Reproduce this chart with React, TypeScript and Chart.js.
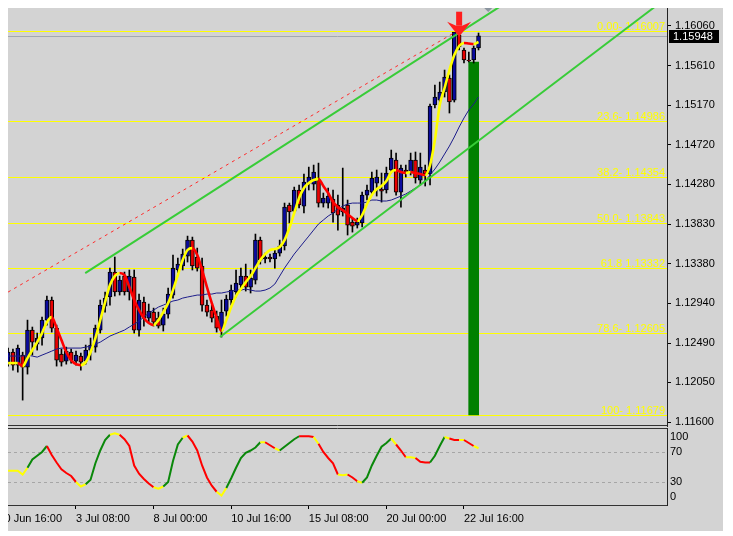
import React, { useEffect, useRef } from 'react';
import { Chart, registerables } from 'chart.js';

Chart.register(...registerables);

const FONT = '"Liberation Sans", Arial, sans-serif';

// ---- price data (H4 bars, index 0 = first visible bar) ----
const opens = [
  1.12275, 1.12387, 1.12241, 1.12354, 1.12219, 1.12636, 1.12478, 1.12546, 1.12748, 1.12974,
  1.12658, 1.12365, 1.12286, 1.12387, 1.12286, 1.12343, 1.12286, 1.12410, 1.12444, 1.12636,
  1.12906, 1.13008, 1.13289, 1.13064, 1.13244, 1.13064, 1.13233, 1.12636, 1.12951, 1.12771,
  1.12838, 1.12771, 1.12692, 1.12816, 1.13030, 1.13312, 1.13357, 1.13469, 1.13649, 1.13458,
  1.13357, 1.12917, 1.12861, 1.12793, 1.12636, 1.12850, 1.12974, 1.13064, 1.13143, 1.13244,
  1.13120, 1.13199, 1.13649, 1.13436, 1.13458, 1.13436, 1.13503, 1.13582, 1.14044, 1.13976,
  1.14213, 1.14032, 1.14291, 1.14280, 1.14325, 1.14066, 1.14066, 1.14111, 1.14044, 1.13965,
  1.14044, 1.13852, 1.13818, 1.13841, 1.14156, 1.14190, 1.14291, 1.14224, 1.14213, 1.14438,
  1.14551, 1.14190, 1.14438, 1.14415, 1.14551, 1.14325, 1.14438, 1.14393, 1.15170, 1.15226,
  1.15317, 1.15474, 1.15226, 1.15959, 1.15790, 1.15677, 1.15677, 1.15812,
];
const highs = [
  1.12433, 1.12422, 1.12467, 1.12387, 1.12748, 1.12670, 1.12602, 1.12782, 1.13019, 1.13008,
  1.12692, 1.12422, 1.12444, 1.12422, 1.12399, 1.12376, 1.12467, 1.12546, 1.12692, 1.12974,
  1.13064, 1.13334, 1.13458, 1.13244, 1.13289, 1.13312, 1.13312, 1.13041, 1.13008, 1.12929,
  1.12883, 1.12838, 1.12883, 1.13109, 1.13481, 1.13447, 1.13548, 1.13694, 1.13683, 1.13559,
  1.13447, 1.12974, 1.12917, 1.12850, 1.12974, 1.13030, 1.13143, 1.13312, 1.13334, 1.13379,
  1.13312, 1.13717, 1.13683, 1.13503, 1.13492, 1.13537, 1.13649, 1.14066, 1.14066, 1.14246,
  1.14269, 1.14393, 1.14471, 1.14494, 1.14516, 1.14179, 1.14235, 1.14213, 1.14156, 1.14460,
  1.14100, 1.13897, 1.13897, 1.14190, 1.14269, 1.14415, 1.14438, 1.14404, 1.14471, 1.14663,
  1.14629, 1.14494, 1.14494, 1.14629, 1.14641, 1.14629, 1.14494, 1.15182, 1.15395, 1.15429,
  1.15564, 1.15508, 1.15985, 1.16007, 1.15812, 1.15767, 1.15835, 1.15981,
];
const lows = [
  1.12230, 1.12185, 1.12162, 1.11847, 1.12140, 1.12354, 1.12410, 1.12467, 1.12692, 1.12613,
  1.12230, 1.12230, 1.12252, 1.12264, 1.12241, 1.12185, 1.12252, 1.12298, 1.12387, 1.12602,
  1.12838, 1.12917, 1.13019, 1.13030, 1.13030, 1.12974, 1.12602, 1.12568, 1.12681, 1.12726,
  1.12681, 1.12658, 1.12625, 1.12771, 1.12996, 1.13278, 1.13312, 1.13402, 1.13312, 1.13300,
  1.12850, 1.12793, 1.12726, 1.12613, 1.12557, 1.12793, 1.12917, 1.13008, 1.13086, 1.13075,
  1.13053, 1.13154, 1.13379, 1.13391, 1.13402, 1.13334, 1.13469, 1.13537, 1.13841, 1.13954,
  1.14010, 1.13954, 1.14213, 1.14213, 1.14021, 1.14021, 1.14010, 1.13852, 1.13762, 1.13920,
  1.13706, 1.13739, 1.13785, 1.13796, 1.14100, 1.14156, 1.14145, 1.14077, 1.14179, 1.14404,
  1.14156, 1.14021, 1.14359, 1.14382, 1.14291, 1.14269, 1.14258, 1.14269, 1.15137, 1.15170,
  1.15260, 1.15080, 1.15204, 1.15790, 1.15643, 1.15655, 1.15643, 1.15790,
];
const closes = [
  1.12387, 1.12241, 1.12433, 1.12219, 1.12636, 1.12500, 1.12546, 1.12748, 1.12974, 1.12658,
  1.12298, 1.12275, 1.12399, 1.12298, 1.12354, 1.12275, 1.12410, 1.12467, 1.12658, 1.12917,
  1.12996, 1.13289, 1.13064, 1.13199, 1.13064, 1.13244, 1.12636, 1.12974, 1.12771, 1.12850,
  1.12726, 1.12681, 1.12816, 1.13041, 1.13334, 1.13379, 1.13492, 1.13649, 1.13357, 1.13334,
  1.12917, 1.12838, 1.12771, 1.12658, 1.12838, 1.12985, 1.13086, 1.13165, 1.13244, 1.13120,
  1.13221, 1.13649, 1.13424, 1.13458, 1.13436, 1.13503, 1.13582, 1.14021, 1.13965, 1.14213,
  1.14044, 1.14303, 1.14359, 1.14415, 1.14066, 1.14122, 1.14145, 1.13954, 1.13931, 1.14010,
  1.13818, 1.13807, 1.13852, 1.14156, 1.14213, 1.14348, 1.14359, 1.14201, 1.14404, 1.14573,
  1.14190, 1.14460, 1.14415, 1.14551, 1.14348, 1.14471, 1.14393, 1.15159, 1.15260, 1.15317,
  1.15486, 1.15204, 1.15992, 1.15823, 1.15677, 1.15666, 1.15812, 1.15948,
];

// smoothed trend line (yellow rising / red falling)
const trendLine = [
  1.12264, 1.12264, 1.12264, 1.12230, 1.12320, 1.12410, 1.12500, 1.12602, 1.12726, 1.12782,
  1.12658, 1.12523, 1.12387, 1.12298, 1.12252, 1.12241, 1.12275, 1.12387, 1.12546, 1.12748,
  1.12951, 1.13143, 1.13244, 1.13278, 1.13255, 1.13120, 1.12974, 1.12861, 1.12771, 1.12715,
  1.12692, 1.12748, 1.12838, 1.12940, 1.13086, 1.13255, 1.13424, 1.13537, 1.13559, 1.13481,
  1.13312, 1.13120, 1.12940, 1.12771, 1.12625, 1.12748, 1.12895, 1.13019, 1.13098, 1.13176,
  1.13244, 1.13334, 1.13424, 1.13492, 1.13537, 1.13548, 1.13571, 1.13649, 1.13785, 1.13954,
  1.14122, 1.14235, 1.14291, 1.14325, 1.14336, 1.14258, 1.14179, 1.14077, 1.14021, 1.13987,
  1.13942, 1.13897, 1.13864, 1.13931, 1.14055, 1.14156, 1.14224, 1.14258, 1.14314, 1.14415,
  1.14438, 1.14415, 1.14404, 1.14415, 1.14404, 1.14393, 1.14382, 1.14494, 1.14776, 1.15170,
  1.15362, 1.15564, 1.15733, 1.15835, 1.15869, 1.15863, 1.15857, 1.15880,
];

// slow moving average (navy)
const maLine = [
  1.12343, 1.12343, 1.12343, 1.12343, 1.12354, 1.12343, 1.12331, 1.12354, 1.12376, 1.12399,
  1.12422, 1.12433, 1.12433, 1.12433, 1.12433, 1.12433, 1.12444, 1.12455, 1.12478, 1.12500,
  1.12534, 1.12568, 1.12591, 1.12613, 1.12636, 1.12670, 1.12703, 1.12737, 1.12782, 1.12827,
  1.12861, 1.12895, 1.12917, 1.12940, 1.12963, 1.12974, 1.12996, 1.13008, 1.13019, 1.13030,
  1.13030, 1.13041, 1.13041, 1.13053, 1.13053, 1.13064, 1.13075, 1.13086, 1.13086, 1.13098,
  1.13086, 1.13075, 1.13075, 1.13086, 1.13109, 1.13154, 1.13244, 1.13334, 1.13413, 1.13492,
  1.13559, 1.13627, 1.13694, 1.13762, 1.13830, 1.13875, 1.13920, 1.13954, 1.13999, 1.14032,
  1.14055, 1.14066, 1.14066, 1.14066, 1.14077, 1.14100, 1.14100, 1.14089, 1.14089, 1.14100,
  1.14122, 1.14145, 1.14168, 1.14201, 1.14235, 1.14269, 1.14314, 1.14382, 1.14449, 1.14528,
  1.14618, 1.14708, 1.14810, 1.14922, 1.15024, 1.15114, 1.15181, 1.15260,
];

// oscillator (0..100)
const oscValues = [
  45, 45, 45, 40, 49, 60, 65, 70, 78, 66,
  56, 47, 42, 38, 30, 24, 27, 33, 55, 72,
  86, 93, 95, 93, 87, 78, 52, 41, 34, 28,
  23, 21, 24, 30, 58, 80, 89, 92, 84, 72,
  52, 36, 25, 17, 12, 22, 35, 49, 62, 69,
  72, 76, 83, 83, 79, 75, 72, 77, 82, 87,
  91, 91, 91, 90, 81, 70, 62, 55, 40, 39,
  40, 36, 31, 29, 36, 52, 65, 77, 82, 88,
  80, 72, 63, 63, 62, 57, 56, 56, 65, 78,
  90, 88, 86, 86, 86, 82, 78, 75,
];
// oscillator state per bar: g = up, r = down, y = neutral
const oscState =
  'yyyyy' + 'gggg' + 'rrrrrr' + 'yy' + 'ggggg' + 'yy' + 'rrrrrrr' + 'yy' + 'gggg' + 'y' +
  'rrrrrr' + 'yy' + 'ggggggg' + 'y' + 'rr' + 'y' + 'gggg' + 'rrr' + 'y' + 'rrrr' + 'yy' +
  'rr' + 'y' + 'gggggg' + 'y' + 'rr' + 'yy' + 'rrr' + 'ggg' + 'y' + 'rr' + 'y' + 'rr' + 'y';
const oscLevels = [100, 70, 30, 0];
const oscDashLevels = [70, 30];

// fibonacci retracement
const fibLevels = ['0.00-', '23.6-', '38.2-', '50.0-', '61.8', '78.6-', '100-'];
const fibPrices = [1.16007, 1.14986, 1.14354, 1.13843, 1.13332, 1.12605, 1.11679];

// price axis ticks
const priceTicks = [1.1606, 1.1561, 1.1517, 1.1472, 1.1428, 1.1383, 1.1338, 1.1294, 1.1249, 1.1205, 1.116];

// time axis labels (bar index of each label)
const timeLabels = ['30 Jun 16:00', '3 Jul 08:00', '8 Jul 00:00', '10 Jul 16:00', '15 Jul 08:00', '20 Jul 00:00', '22 Jul 16:00'];
const timeLabelBars = [-2, 14, 30, 46, 62, 78, 94];

// drawn objects: channel trend lines [bar, price]
const upperChannel = [[15.9, 1.13278], [105, 1.16404]];
const lowerChannel = [[43.7, 1.12557], [135, 1.16344]];
const dashedLine = [[-5, 1.12905], [92.5, 1.16]];
const targetBar = { bar: 96, from: 1.11679, to: 1.15655 };
const arrowBar = 93;
const markerBar = 99;

// view
const X_MIN = -0.02;
const X_MAX = 135.86;
const P_MIN = 1.115555;
const P_MAX = 1.163527;

const BULL = '#0a0a9e';
const BEAR = '#e80000';
const YEL = '#ffff00';
const RED = '#ff0000';
const GRN = '#0a880a';

const idx = opens.map((_, i) => i);
const lastClose = closes[closes.length - 1];

const mainDecor = {
  id: 'mainDecor',
  beforeDatasetsDraw(chart: any) {
    const { ctx, chartArea: a, scales } = chart;
    const y = scales.y;
    ctx.save();
    ctx.beginPath();
    ctx.rect(a.left, a.top, a.right - a.left, a.bottom - a.top);
    ctx.clip();
    ctx.lineWidth = 1;
    const cp = Math.round(y.getPixelForValue(lastClose)) + 0.5;
    ctx.strokeStyle = '#a2a8b0';
    ctx.beginPath();
    ctx.moveTo(a.left, cp);
    ctx.lineTo(a.right, cp);
    ctx.stroke();
    ctx.font = `11px ${FONT}`;
    ctx.textAlign = 'right';
    ctx.textBaseline = 'alphabetic';
    fibPrices.forEach((p, i) => {
      const py = Math.round(y.getPixelForValue(p)) + 0.5;
      ctx.strokeStyle = YEL;
      ctx.beginPath();
      ctx.moveTo(a.left, py);
      ctx.lineTo(a.right, py);
      ctx.stroke();
      ctx.fillStyle = YEL;
      ctx.fillText(`${fibLevels[i]} ${p.toFixed(5)}`, a.right - 2, py - 2);
    });
    ctx.restore();
  },
  afterDatasetsDraw(chart: any) {
    const { ctx, chartArea: a, scales } = chart;
    const { x, y } = scales;
    ctx.save();
    ctx.beginPath();
    ctx.rect(a.left, a.top, a.right - a.left, a.bottom - a.top);
    ctx.clip();
    // grey marker at top
    const mx = x.getPixelForValue(markerBar);
    const my = a.top + 4;
    ctx.fillStyle = '#8a949e';
    ctx.beginPath();
    ctx.moveTo(mx, my - 8);
    ctx.lineTo(mx + 8, my);
    ctx.lineTo(mx, my + 8);
    ctx.lineTo(mx - 8, my);
    ctx.closePath();
    ctx.fill();
    // red sell arrow
    const ax = x.getPixelForValue(arrowBar);
    const tip = y.getPixelForValue(highs[arrowBar]) + 6;
    ctx.fillStyle = '#ff1e1e';
    ctx.beginPath();
    ctx.rect(ax - 3, tip - 25, 6, 14);
    ctx.fill();
    ctx.beginPath();
    ctx.moveTo(ax - 12, tip - 15);
    ctx.lineTo(ax - 3, tip - 11);
    ctx.lineTo(ax + 3, tip - 11);
    ctx.lineTo(ax + 12, tip - 15);
    ctx.lineTo(ax, tip);
    ctx.closePath();
    ctx.fill();
    ctx.restore();
    // bottom border
    ctx.save();
    ctx.strokeStyle = '#333';
    ctx.lineWidth = 1;
    ctx.beginPath();
    ctx.moveTo(a.left, a.bottom - 0.5);
    ctx.lineTo(a.right, a.bottom - 0.5);
    ctx.stroke();
    ctx.restore();
  },
  afterDraw(chart: any) {
    const { ctx, chartArea: a, scales } = chart;
    const py = scales.y.getPixelForValue(lastClose);
    ctx.save();
    ctx.fillStyle = '#000';
    ctx.fillRect(a.right + 2, Math.round(py) - 6, 50, 13);
    ctx.fillStyle = '#fff';
    ctx.font = `11px ${FONT}`;
    ctx.textAlign = 'left';
    ctx.textBaseline = 'middle';
    ctx.fillText(lastClose.toFixed(5), a.right + 6, Math.round(py) + 0.5);
    ctx.restore();
  },
};

const oscDecor = {
  id: 'oscDecor',
  beforeDatasetsDraw(chart: any) {
    const { ctx, chartArea: a, scales } = chart;
    ctx.save();
    ctx.strokeStyle = '#a6a6a6';
    ctx.lineWidth = 1;
    ctx.setLineDash([3, 3]);
    oscDashLevels.forEach((v) => {
      const py = Math.round(scales.y.getPixelForValue(v)) + 0.5;
      ctx.beginPath();
      ctx.moveTo(a.left, py);
      ctx.lineTo(a.right, py);
      ctx.stroke();
    });
    ctx.setLineDash([]);
    ctx.strokeStyle = '#333';
    ctx.beginPath();
    ctx.moveTo(a.left, a.top + 0.5);
    ctx.lineTo(a.right, a.top + 0.5);
    ctx.stroke();
    ctx.restore();
  },
  afterDraw(chart: any) {
    const { ctx, chartArea: a, scales } = chart;
    ctx.save();
    ctx.fillStyle = '#000';
    ctx.font = `11px ${FONT}`;
    ctx.textAlign = 'left';
    ctx.textBaseline = 'middle';
    oscLevels.forEach((v) => {
      let py = scales.y.getPixelForValue(v);
      py = Math.max(a.top + 9, Math.min(a.bottom - 8, py));
      ctx.fillText(String(v), a.right + 3, py);
    });
    ctx.restore();
  },
};

function mainConfig(): any {
  return {
    type: 'bar',
    data: {
      datasets: [
        {
          type: 'line',
          data: upperChannel.map(([bx, p]) => ({ x: bx, y: p })),
          borderColor: '#38cc38',
          borderWidth: 2,
          pointRadius: 0,
          order: 1,
        },
        {
          type: 'line',
          data: lowerChannel.map(([bx, p]) => ({ x: bx, y: p })),
          borderColor: '#38cc38',
          borderWidth: 2,
          pointRadius: 0,
          order: 1,
        },
        {
          type: 'line',
          data: idx.map((i) => ({ x: i, y: trendLine[i] })),
          borderWidth: 2.6,
          pointRadius: 0,
          cubicInterpolationMode: 'monotone',
          borderColor: YEL,
          segment: {
            borderColor: (c: any) => (c.p1.parsed.y >= c.p0.parsed.y ? YEL : RED),
          },
          order: 2,
        },
        {
          type: 'line',
          data: dashedLine.map(([bx, p]) => ({ x: bx, y: p })),
          borderColor: '#ff2a2a',
          borderWidth: 1,
          borderDash: [3, 4],
          pointRadius: 0,
          order: 3,
        },
        {
          type: 'line',
          data: idx.map((i) => ({ x: i, y: maLine[i] })),
          borderColor: '#1c1c8a',
          borderWidth: 1,
          pointRadius: 0,
          order: 4,
        },
        {
          type: 'bar',
          data: idx.map((i) => ({ x: i, y: [opens[i], closes[i]] })),
          backgroundColor: idx.map((i) => (closes[i] >= opens[i] ? BULL : BEAR)),
          borderColor: '#000',
          borderWidth: 1,
          borderSkipped: false,
          barThickness: 4,
          grouped: false,
          order: 5,
        },
        {
          type: 'bar',
          data: idx.map((i) => ({ x: i, y: [lows[i], highs[i]] })),
          backgroundColor: '#000',
          borderWidth: 0,
          barThickness: 1,
          grouped: false,
          order: 6,
        },
        {
          type: 'bar',
          data: [{ x: targetBar.bar, y: [targetBar.from, targetBar.to] }],
          backgroundColor: '#008000',
          borderWidth: 0,
          barThickness: 10,
          grouped: false,
          order: 7,
        },
      ],
    },
    options: {
      animation: false,
      responsive: false,
      devicePixelRatio: 1,
      events: [],
      layout: { padding: { top: 0, bottom: 2, left: 0, right: 0 } },
      plugins: { legend: { display: false }, tooltip: { enabled: false } },
      scales: {
        x: { type: 'linear', min: X_MIN, max: X_MAX, display: false, offset: false },
        y: {
          type: 'linear',
          position: 'right',
          min: P_MIN,
          max: P_MAX,
          beginAtZero: false,
          afterBuildTicks: (s: any) => {
            s.ticks = priceTicks.map((v) => ({ value: v }));
          },
          afterFit: (s: any) => {
            s.width = 56;
            s.paddingTop = 0;
            s.paddingBottom = 0;
          },
          grid: { drawOnChartArea: false, drawTicks: true, tickLength: 4, tickColor: '#000' },
          border: { display: true, color: '#222', width: 1 },
          ticks: {
            color: '#000',
            font: { family: FONT, size: 11 },
            padding: 4,
            autoSkip: false,
            callback: (v: any) => Number(v).toFixed(5),
          },
        },
      },
    },
    plugins: [mainDecor],
  };
}

function oscConfig(): any {
  const colorOf = (s: string) => (s === 'g' ? GRN : s === 'r' ? RED : YEL);
  return {
    type: 'line',
    data: {
      datasets: [
        {
          data: idx.map((i) => ({ x: i, y: oscValues[i] })),
          borderWidth: 2,
          pointRadius: 0,
          borderColor: YEL,
          segment: { borderColor: (c: any) => colorOf(oscState[c.p1DataIndex]) },
        },
      ],
    },
    options: {
      animation: false,
      responsive: false,
      devicePixelRatio: 1,
      events: [],
      layout: { padding: { top: 2, bottom: 0, left: 0, right: 0 } },
      plugins: { legend: { display: false }, tooltip: { enabled: false } },
      scales: {
        x: {
          type: 'linear',
          min: X_MIN,
          max: X_MAX,
          position: 'bottom',
          afterBuildTicks: (s: any) => {
            s.ticks = timeLabelBars.map((v) => ({ value: v }));
          },
          afterFit: (s: any) => {
            s.height = 26;
            s.paddingLeft = 0;
            s.paddingRight = 0;
          },
          grid: { drawOnChartArea: false, drawTicks: true, tickLength: 4, tickColor: '#000' },
          border: { display: true, color: '#333', width: 1 },
          ticks: {
            color: '#000',
            font: { family: FONT, size: 11 },
            padding: 3,
            align: 'start',
            autoSkip: false,
            maxRotation: 0,
            minRotation: 0,
            callback: (_v: any, i: number) => timeLabels[i],
          },
        },
        y: {
          type: 'linear',
          position: 'right',
          min: -0.67,
          max: 102,
          afterFit: (s: any) => {
            s.width = 56;
            s.paddingTop = 0;
            s.paddingBottom = 0;
          },
          grid: { display: false },
          border: { display: true, color: '#222', width: 1 },
          ticks: { display: false },
        },
      },
    },
    plugins: [oscDecor],
  };
}

export default function App() {
  const mainRef = useRef<HTMLCanvasElement>(null);
  const oscRef = useRef<HTMLCanvasElement>(null);
  useEffect(() => {
    const main = new Chart(mainRef.current as HTMLCanvasElement, mainConfig());
    const osc = new Chart(oscRef.current as HTMLCanvasElement, oscConfig());
    return () => {
      main.destroy();
      osc.destroy();
    };
  }, []);
  return (
    <div
      style={{
        position: 'relative',
        width: 715,
        height: 531,
        marginTop: -8,
        background: '#d3d3d3',
        overflow: 'hidden',
      }}
    >
      <canvas
        ref={mainRef}
        width={715}
        height={428}
        style={{ position: 'absolute', left: 0, top: 0, width: 715, height: 428 }}
      />
      <canvas
        ref={oscRef}
        width={715}
        height={105}
        style={{ position: 'absolute', left: 0, top: 426, width: 715, height: 105 }}
      />
    </div>
  );
}
